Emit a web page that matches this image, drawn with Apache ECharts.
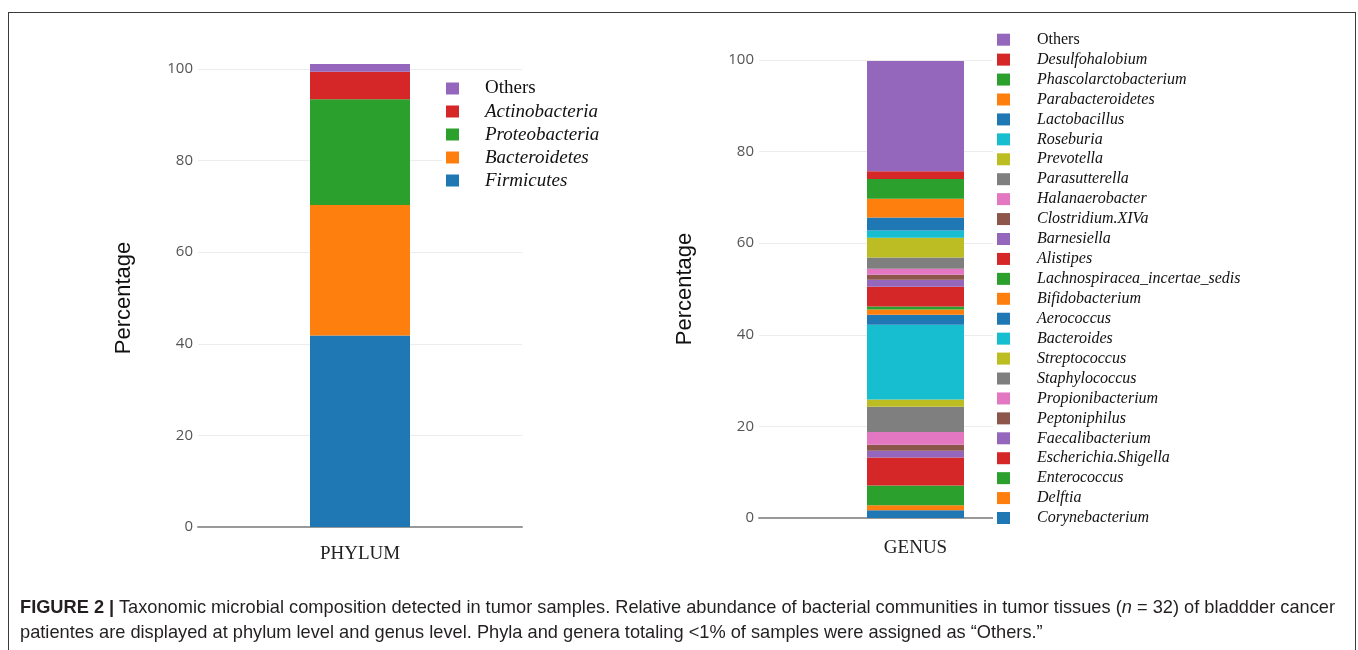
<!DOCTYPE html>
<html>
<head>
<meta charset="utf-8">
<script src="https://cdn.jsdelivr.net/npm/echarts@6/dist/echarts.min.js"></script>
<style>
html,body{margin:0;padding:0;background:#fff;}
#frame{position:absolute;left:8px;top:12px;width:1348px;height:640px;border:1.5px solid #3a3a3a;box-sizing:border-box;}
#chart{position:absolute;left:0;top:0;width:1358px;height:650px;}
#caption{position:absolute;left:20px;top:594px;font-family:"Liberation Sans Narrow","Arial Narrow","Liberation Sans",Arial,sans-serif;font-size:18.5px;line-height:25px;color:#231f20;white-space:nowrap;}
#caption .l{display:block;transform-origin:0 50%;}
</style>
</head>
<body>
<div id="chart"></div>
<div id="frame"></div>
<div id="caption"><span class="l" id="cap1"><b>FIGURE 2 |</b> Taxonomic microbial composition detected in tumor samples. Relative abundance of bacterial communities in tumor tissues (<i>n</i> = 32) of bladdder cancer</span><span class="l" id="cap2">patientes are displayed at phylum level and genus level. Phyla and genera totaling &lt;1% of samples were assigned as “Others.”</span></div>
<script>
// ---- data ----
const phylumCategory = ['PHYLUM'];
const phylumNames = ['Firmicutes', 'Bacteroidetes', 'Proteobacteria', 'Actinobacteria', 'Others'];
const phylumValues = [41.8, 28.5, 23.1, 6.0, 1.7];

const genusCategory = ['GENUS'];
const genusNames = ['Corynebacterium', 'Delftia', 'Enterococcus', 'Escherichia.Shigella', 'Faecalibacterium',
  'Peptoniphilus', 'Propionibacterium', 'Staphylococcus', 'Streptococcus', 'Bacteroides',
  'Aerococcus', 'Bifidobacterium', 'Lachnospiracea_incertae_sedis', 'Alistipes', 'Barnesiella',
  'Clostridium.XIVa', 'Halanaerobacter', 'Parasutterella', 'Prevotella', 'Roseburia',
  'Lactobacillus', 'Parabacteroidetes', 'Phascolarctobacterium', 'Desulfohalobium', 'Others'];
const genusValues = [1.7, 1.1, 4.3, 6.1, 1.5,
  1.3, 2.8, 5.5, 1.6, 16.3,
  2.2, 1.1, 0.7, 4.3, 1.5,
  1.1, 1.3, 2.5, 4.3, 1.6,
  2.8, 4.1, 4.3, 1.7, 24.1];

const yTicks = [0, 20, 40, 60, 80, 100];

const palette = ['#1f77b4', '#ff7f0e', '#2ca02c', '#d62728', '#9467bd', '#8c564b', '#e377c2', '#7f7f7f', '#bcbd22', '#17becf'];

// ---- chart ----
const chart = echarts.init(document.getElementById('chart'), null, {renderer: 'canvas'});

const legendFmt = name => name === 'Others' ? '{n|' + name + '}' : '{i|' + name + '}';

function yAxisCfg(idx) {
  return {
    type: 'value', gridIndex: idx, min: yTicks[0], max: yTicks[yTicks.length - 1], interval: 20,
    name: 'Percentage', nameLocation: 'middle', nameGap: 63,
    nameTextStyle: {fontFamily: 'Liberation Sans, Arial, sans-serif', fontSize: 22, color: '#111'},
    axisLine: {show: false}, axisTick: {show: false},
    axisLabel: {margin: 5, fontFamily: 'Open Sans, sans-serif', fontSize: 15, color: '#555'},
    splitLine: {lineStyle: {color: '#ececec', width: 1}}
  };
}
function xAxisCfg(idx, data, margin) {
  return {
    type: 'category', gridIndex: idx, data: data,
    axisLine: {lineStyle: {color: '#999', width: 2}}, axisTick: {show: false},
    axisLabel: {margin: margin, fontFamily: 'Liberation Serif, Times New Roman, serif', fontSize: 19, color: '#222'}
  };
}

const series = [];
phylumNames.forEach((n, i) => {
  series.push({
    name: n, type: 'bar', stack: 'phylum', xAxisIndex: 0, yAxisIndex: 0,
    barWidth: 100, clip: false, data: [phylumValues[i]],
    itemStyle: {color: palette[i % 10]}
  });
});
genusNames.forEach((n, i) => {
  series.push({
    name: n, type: 'bar', stack: 'genus', xAxisIndex: 1, yAxisIndex: 1,
    barWidth: 97, clip: false, data: [genusValues[i]],
    itemStyle: {color: palette[i % 10]}
  });
});

const legendBase = {
  orient: 'vertical', icon: 'rect', backgroundColor: '#fff', selectedMode: false,
  formatter: legendFmt
};

function richStyles(size, pad) {
  const base = {fontSize: size, fontFamily: 'Liberation Serif, Times New Roman, serif', color: '#111', padding: [0, 0, 0, pad]};
  return {
    n: Object.assign({}, base, {fontStyle: 'normal'}),
    i: Object.assign({}, base, {fontStyle: 'italic'})
  };
}

chart.setOption({
  animation: false,
  grid: [
    {left: 198, width: 324, top: 69, height: 458},
    {left: 759, width: 313, top: 60, height: 458}
  ],
  xAxis: [xAxisCfg(0, phylumCategory, 18), xAxisCfg(1, genusCategory, 21)],
  yAxis: [yAxisCfg(0), yAxisCfg(1)],
  legend: [
    Object.assign({}, legendBase, {
      left: 442, top: 77, padding: [2, 4], itemWidth: 13, itemHeight: 12, itemGap: 4,
      data: phylumNames.slice().reverse(),
      textStyle: {fontFamily: 'Liberation Serif, serif', fontSize: 19, color: '#111', rich: richStyles(19, 21)}
    }),
    Object.assign({}, legendBase, {
      left: 993, top: 29.7, padding: [2, 4], itemWidth: 13, itemHeight: 12, itemGap: 3.93,
      data: genusNames.slice().reverse(),
      textStyle: {fontFamily: 'Liberation Serif, serif', fontSize: 16, color: '#111', rich: richStyles(16, 22)}
    })
  ],
  series: series
});

// fit caption first line to reference width
(function fitCaption() {
  const c1 = document.getElementById('cap1');
  const c2 = document.getElementById('cap2');
  c1.style.display = 'inline-block';
  c2.style.display = 'inline-block';
  const w1 = c1.getBoundingClientRect().width;
  const s = 1315 / w1;
  c1.style.display = 'block';
  c2.style.display = 'block';
  c1.style.transform = 'scaleX(' + s + ')';
  c2.style.transform = 'scaleX(' + s + ')';
})();
</script>
</body>
</html>
